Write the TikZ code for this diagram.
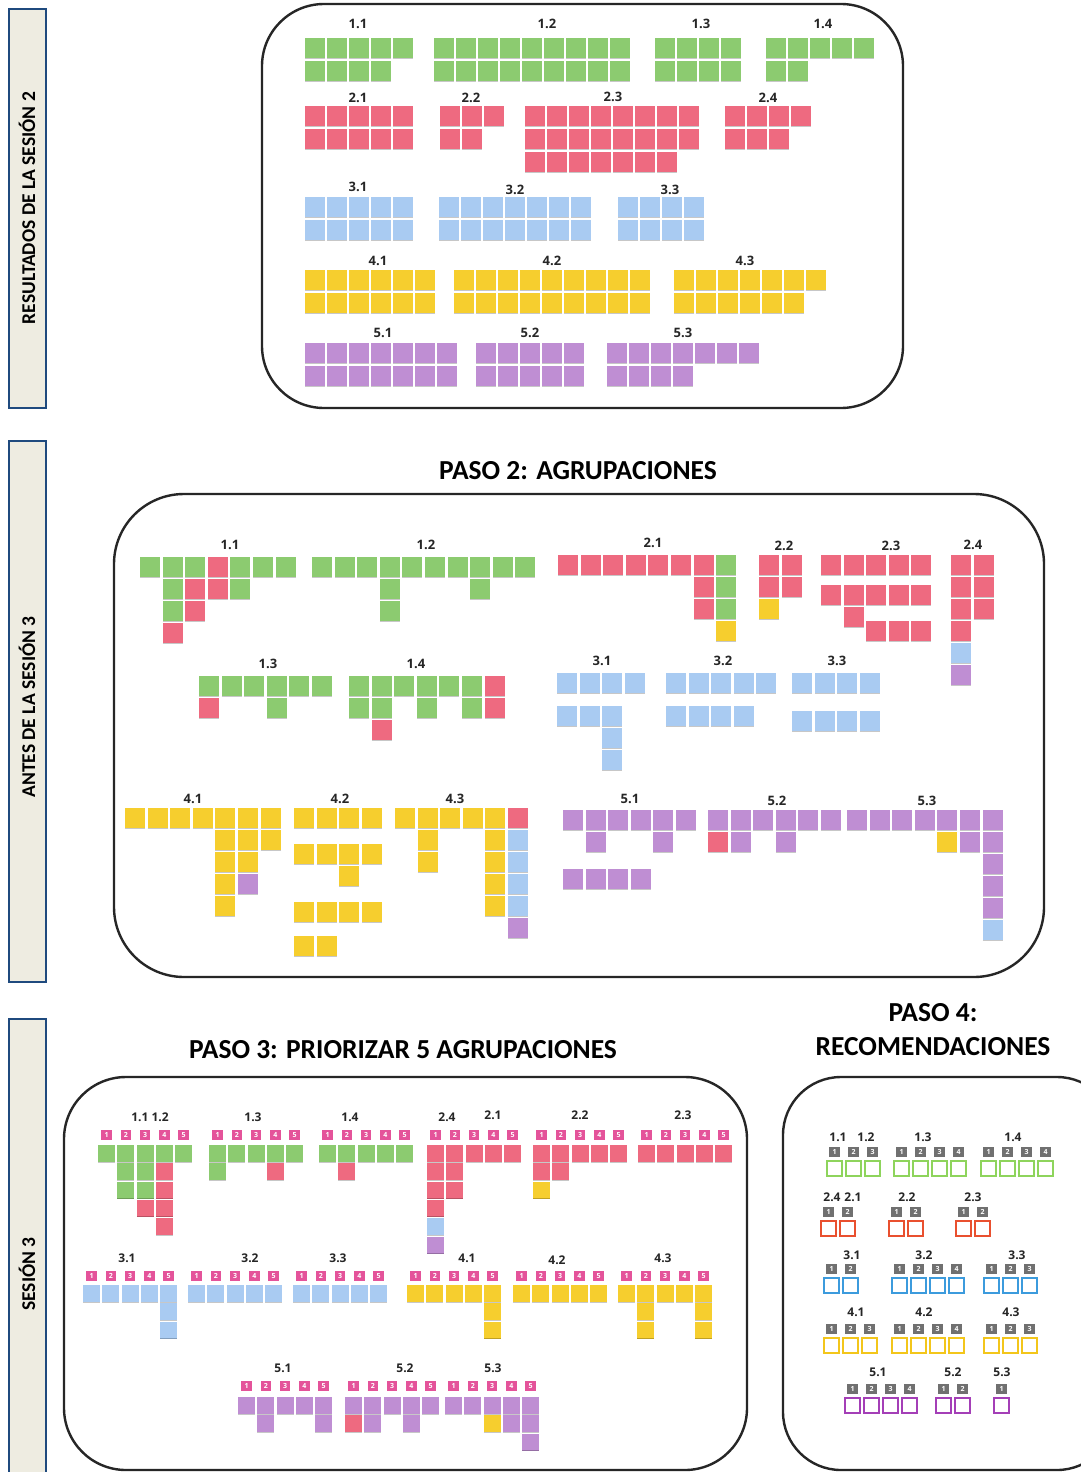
\documentclass[tikz,border=0pt]{standalone}
\usepackage{fontspec}
\setmainfont{Carlito}
\newfontfamily\labfont{Open Sans}
\definecolor{pgreen}{HTML}{8CCB70}
\definecolor{pred}{HTML}{EE6A80}
\definecolor{pblue}{HTML}{A9CBF2}
\definecolor{pyellow}{HTML}{F6CE2E}
\definecolor{ppurple}{HTML}{BF8ED3}
\definecolor{tagpink}{HTML}{E4539A}
\definecolor{taggray}{HTML}{707070}
\definecolor{ogreen}{HTML}{8ED45C}
\definecolor{ored}{HTML}{E9502F}
\definecolor{oblue}{HTML}{3C9BDD}
\definecolor{oyellow}{HTML}{F3C61B}
\definecolor{opurple}{HTML}{A43FB7}
\definecolor{barfill}{HTML}{EEECE1}
\definecolor{barblue}{HTML}{1F4A7E}
\newcommand{\postit}[3]{%
\fill[#1] ({\gx+(#2-1)*\np},{\gy+(#3-1)*\rp}) coordinate (q) rectangle ++(\ns,\ns);
\draw[black, opacity=.22, line width=.9pt] (q) ++(0,\ns) -- ++(\ns,0);}
\newcommand{\postrow}[4]{\foreach \cc in {#3,...,#4}{\postit{#1}{\cc}{#2}}}
\newcommand{\postcol}[4]{\foreach \rw in {#3,...,#4}{\postit{#1}{#2}{\rw}}}
\newcommand{\tagrow}[2]{\foreach \cc in {1,...,5}{\node[ptag] (#1-\cc) at ({\gx+(\cc-1)*\np+\ns/2},#2) {\cc};}}
\newcommand{\recbox}[5]{\foreach \cc in {1,...,#4}{%
\draw[obox=#1] ({#2+(\cc-1)*19+0.9},{#3+0.9}) rectangle ++(15.2,15.2);
\node[gtag] (#5-\cc) at ({#2+(\cc-1)*19+8.5},{#3-8}) {\cc};}}

\begin{document}
\begin{tikzpicture}[x=1pt, y=-1pt,
	panel/.style={draw=black!85, line width=2.4pt, rounded corners=#1},
	sidebar/.style={fill=barfill, draw=barblue, line width=2.6pt},
	side/.style={rotate=90, font=\bfseries\fontsize{19.5}{19.5}\selectfont},
	ttl/.style={font=\bfseries\fontsize{27.5}{27.5}\selectfont},
	lab/.style={font=\labfont\bfseries\fontsize{13}{13}\selectfont, text=black!85, inner sep=0pt},
	slab/.style={lab, font=\labfont\bfseries\fontsize{12}{12}\selectfont},
	ptag/.style={fill=tagpink, text=white, minimum size=10.5pt, inner sep=0pt, font=\labfont\bfseries\fontsize{7}{7}\selectfont},
	gtag/.style={ptag, fill=taggray},
	obox/.style={draw=#1, line width=1.8pt}]
	\useasboundingbox (0,0) rectangle (1081,1472);
	\fill[white] (0,0) rectangle (1081,1472);
	\draw[sidebar] (9,9) rectangle (46,408);
	\node[side] (s1) at (27,208) {RESULTADOS DE LA SESIÓN 2};
	\draw[sidebar] (9,441) rectangle (46,982);
	\node[side] (s2) at (27,707) {ANTES DE LA SESIÓN 3};
	\draw[sidebar] (9,1019) rectangle (46,1500);
	\node[side] (s3) at (27,1274) {SESIÓN 3};
	\draw[panel=62pt] (262,4) rectangle (903,408);
	\def\np{22}\def\rp{23}\def\ns{20}
	\def\gy{38}
	\def\gx{305}\postrow{pgreen}{1}{1}{5}\postrow{pgreen}{2}{1}{4}
	\def\gx{434}\postrow{pgreen}{1}{1}{9}\postrow{pgreen}{2}{1}{9}
	\def\gx{655}\postrow{pgreen}{1}{1}{4}\postrow{pgreen}{2}{1}{4}
	\def\gx{766}\postrow{pgreen}{1}{1}{5}\postrow{pgreen}{2}{1}{2}
	\def\gy{106}
	\def\gx{305}\postrow{pred}{1}{1}{5}\postrow{pred}{2}{1}{5}
	\def\gx{440}\postrow{pred}{1}{1}{3}\postrow{pred}{2}{1}{2}
	\def\gx{525}\postrow{pred}{1}{1}{8}\postrow{pred}{2}{1}{8}\postrow{pred}{3}{1}{7}
	\def\gx{725}\postrow{pred}{1}{1}{4}\postrow{pred}{2}{1}{3}
	\def\gy{197}
	\def\gx{305}\postrow{pblue}{1}{1}{5}\postrow{pblue}{2}{1}{5}
	\def\gx{439}\postrow{pblue}{1}{1}{7}\postrow{pblue}{2}{1}{7}
	\def\gx{618}\postrow{pblue}{1}{1}{4}\postrow{pblue}{2}{1}{4}
	\def\gy{270}
	\def\gx{305}\postrow{pyellow}{1}{1}{6}\postrow{pyellow}{2}{1}{6}
	\def\gx{454}\postrow{pyellow}{1}{1}{9}\postrow{pyellow}{2}{1}{9}
	\def\gx{674}\postrow{pyellow}{1}{1}{7}\postrow{pyellow}{2}{1}{6}
	\def\gy{343}
	\def\gx{305}\postrow{ppurple}{1}{1}{7}\postrow{ppurple}{2}{1}{7}
	\def\gx{476}\postrow{ppurple}{1}{1}{5}\postrow{ppurple}{2}{1}{5}
	\def\gx{607}\postrow{ppurple}{1}{1}{7}\postrow{ppurple}{2}{1}{4}
	\node[lab] (a11) at (358,24) {1.1};
	\node[lab] (a12) at (547,24) {1.2};
	\node[lab] (a13) at (701,24) {1.3};
	\node[lab] (a14) at (823,24) {1.4};
	\node[lab] (a21) at (358,98) {2.1};
	\node[lab] (a22) at (471,98) {2.2};
	\node[lab] (a23) at (613,97) {2.3};
	\node[lab] (a24) at (768,98) {2.4};
	\node[lab] (a31) at (358,187) {3.1};
	\node[lab] (a32) at (515,190) {3.2};
	\node[lab] (a33) at (670,190) {3.3};
	\node[lab] (a41) at (378,261) {4.1};
	\node[lab] (a42) at (552,261) {4.2};
	\node[lab] (a43) at (745,261) {4.3};
	\node[lab] (a51) at (383,333) {5.1};
	\node[lab] (a52) at (530,333) {5.2};
	\node[lab] (a53) at (683,333) {5.3};
	\node[ttl] (paso2) at (578,471) {PASO 2: AGRUPACIONES};
	\draw[panel=70pt] (114,494) rectangle (1044,977);
	\def\np{22.6}\def\rp{22}\def\ns{20}
	\def\gx{140}\def\gy{557}
	\postrow{pgreen}{1}{1}{3}\postit{pred}{4}{1}\postrow{pgreen}{1}{5}{7}
	\postcol{pgreen}{2}{2}{3}\postit{pred}{2}{4}\postcol{pred}{3}{2}{3}\postit{pred}{4}{2}\postit{pgreen}{5}{2}
	\def\gx{312}
	\postrow{pgreen}{1}{1}{10}\postcol{pgreen}{4}{2}{3}\postit{pgreen}{8}{2}
	\def\gx{558}\def\gy{555}
	\postrow{pred}{1}{1}{7}\postcol{pred}{7}{2}{3}\postcol{pgreen}{8}{1}{3}\postit{pyellow}{8}{4}
	\def\gx{759}
	\postrow{pred}{1}{1}{2}\postrow{pred}{2}{1}{2}\postit{pyellow}{1}{3}
	\def\gx{821}
	\postrow{pred}{1}{1}{5}
	\def\gy{585}\postrow{pred}{1}{1}{5}\postit{pred}{2}{2}
	\def\gy{621}\postrow{pred}{1}{3}{5}
	\def\gx{951}\def\gy{555}
	\postcol{pred}{1}{1}{4}\postcol{pred}{2}{1}{3}\postit{pblue}{1}{5}\postit{ppurple}{1}{6}
	\def\gx{199}\def\gy{676}
	\postrow{pgreen}{1}{1}{6}\postit{pred}{1}{2}\postit{pgreen}{4}{2}
	\def\gx{349}
	\postrow{pgreen}{1}{1}{6}\postcol{pred}{7}{1}{2}\postrow{pgreen}{2}{1}{2}\postit{pgreen}{4}{2}\postit{pgreen}{6}{2}\postit{pred}{2}{3}
	\def\gx{557}\def\gy{673}\postrow{pblue}{1}{1}{4}
	\def\gy{706}\postrow{pblue}{1}{1}{3}\postcol{pblue}{3}{2}{3}
	\def\gx{666}\def\gy{673}\postrow{pblue}{1}{1}{5}
	\def\gy{706}\postrow{pblue}{1}{1}{4}
	\def\gx{792}\def\gy{673}\postrow{pblue}{1}{1}{4}
	\def\gy{711}\postrow{pblue}{1}{1}{4}
	\def\gx{125}\def\gy{808}
	\postrow{pyellow}{1}{1}{7}\postcol{pyellow}{5}{2}{5}\postcol{pyellow}{6}{2}{3}\postit{ppurple}{6}{4}\postit{pyellow}{7}{2}
	\def\gx{294}\postrow{pyellow}{1}{1}{4}
	\def\gy{844}\postrow{pyellow}{1}{1}{4}\postit{pyellow}{3}{2}
	\def\gy{902}\postrow{pyellow}{1}{1}{4}
	\def\gy{936}\postrow{pyellow}{1}{1}{2}
	\def\gx{395}\def\gy{808}
	\postrow{pyellow}{1}{1}{5}\postit{pred}{6}{1}\postcol{pyellow}{2}{2}{3}\postcol{pyellow}{5}{2}{5}\postcol{pblue}{6}{2}{5}\postit{ppurple}{6}{6}
	\def\gx{563}\def\gy{810}
	\postrow{ppurple}{1}{1}{6}\postit{ppurple}{2}{2}\postit{ppurple}{5}{2}
	\def\gy{869}\postrow{ppurple}{1}{1}{4}
	\def\gx{708}\def\gy{810}
	\postrow{ppurple}{1}{1}{6}\postit{pred}{1}{2}\postit{ppurple}{2}{2}\postit{ppurple}{4}{2}
	\def\gx{847}
	\postrow{ppurple}{1}{1}{7}\postit{pyellow}{5}{2}\postit{ppurple}{6}{2}\postcol{ppurple}{7}{2}{5}\postit{pblue}{7}{6}
	\node[lab] (b11) at (230,545) {1.1};
	\node[lab] (b12) at (426,545) {1.2};
	\node[lab] (b21) at (653,543) {2.1};
	\node[lab] (b22) at (784,546) {2.2};
	\node[lab] (b23) at (891,546) {2.3};
	\node[lab] (b24) at (973,545) {2.4};
	\node[lab] (b13) at (268,664) {1.3};
	\node[lab] (b14) at (416,664) {1.4};
	\node[lab] (b31) at (602,661) {3.1};
	\node[lab] (b32) at (723,661) {3.2};
	\node[lab] (b33) at (837,661) {3.3};
	\node[lab] (b41) at (193,799) {4.1};
	\node[lab] (b42) at (340,799) {4.2};
	\node[lab] (b43) at (455,799) {4.3};
	\node[lab] (b51) at (630,799) {5.1};
	\node[lab] (b52) at (777,801) {5.2};
	\node[lab] (b53) at (927,801) {5.3};
	\node[ttl] (paso3) at (403,1050) {PASO 3: PRIORIZAR 5 AGRUPACIONES};
	\draw[panel=62pt] (64,1077) rectangle (747,1470);
	\def\np{19.3}\def\rp{18.3}\def\ns{17}
	\def\gy{1145}
	\def\gx{98}\tagrow{c1}{1135}
	\postrow{pgreen}{1}{1}{5}\postcol{pgreen}{2}{2}{3}\postcol{pgreen}{3}{2}{3}\postit{pred}{3}{4}\postcol{pred}{4}{2}{5}
	\def\gx{209}\tagrow{c2}{1135}
	\postrow{pgreen}{1}{1}{5}\postit{pgreen}{1}{2}\postit{pred}{4}{2}
	\def\gx{319}\tagrow{c3}{1135}
	\postrow{pgreen}{1}{1}{5}\postit{pred}{2}{2}
	\def\gx{427}\tagrow{c4}{1135}
	\postrow{pred}{1}{1}{5}\postcol{pred}{1}{2}{4}\postcol{pred}{2}{2}{3}\postit{pblue}{1}{5}\postit{ppurple}{1}{6}
	\def\gx{533}\tagrow{c5}{1135}
	\postrow{pred}{1}{1}{5}\postcol{pred}{1}{2}{2}\postit{pred}{2}{2}\postit{pyellow}{1}{3}
	\def\gx{638}\tagrow{c6}{1135}
	\postrow{pred}{1}{1}{5}
	\def\gy{1285}
	\def\gx{83}\tagrow{c7}{1276}
	\postrow{pblue}{1}{1}{5}\postcol{pblue}{5}{2}{3}
	\def\gx{188}\tagrow{c8}{1276}
	\postrow{pblue}{1}{1}{5}
	\def\gx{293}\tagrow{c9}{1276}
	\postrow{pblue}{1}{1}{5}
	\def\gx{407}\tagrow{c10}{1276}
	\postrow{pyellow}{1}{1}{5}\postcol{pyellow}{5}{2}{3}
	\def\gx{513}\tagrow{c11}{1276}
	\postrow{pyellow}{1}{1}{5}
	\def\gx{618}\tagrow{c12}{1276}
	\postrow{pyellow}{1}{1}{5}\postcol{pyellow}{2}{2}{3}\postcol{pyellow}{5}{2}{3}
	\def\gy{1397}
	\def\gx{238}\tagrow{c13}{1386}
	\postrow{ppurple}{1}{1}{5}\postit{ppurple}{2}{2}\postit{ppurple}{5}{2}
	\def\gx{345}\tagrow{c14}{1386}
	\postrow{ppurple}{1}{1}{5}\postit{pred}{1}{2}\postit{ppurple}{2}{2}\postit{ppurple}{4}{2}
	\def\gx{445}\tagrow{c15}{1386}
	\postrow{ppurple}{1}{1}{5}\postit{pyellow}{3}{2}\postit{ppurple}{4}{2}\postcol{ppurple}{5}{2}{3}
	\node[slab] (c1112) at (150,1117) {1.1 1.2};
	\node[slab] (c13) at (253,1117) {1.3};
	\node[slab] (c14) at (350,1117) {1.4};
	\node[slab] (c24) at (447,1117) {2.4};
	\node[slab] (c21) at (493,1115) {2.1};
	\node[slab] (c22) at (580,1115) {2.2};
	\node[slab] (c23) at (683,1115) {2.3};
	\node[slab] (c31) at (127,1258) {3.1};
	\node[slab] (c32) at (250,1258) {3.2};
	\node[slab] (c33) at (338,1258) {3.3};
	\node[slab] (c41) at (467,1258) {4.1};
	\node[slab] (c42) at (557,1260) {4.2};
	\node[slab] (c43) at (663,1258) {4.3};
	\node[slab] (c51) at (283,1368) {5.1};
	\node[slab] (c52) at (405,1368) {5.2};
	\node[slab] (c53) at (493,1368) {5.3};
	\node[ttl] (paso4a) at (933,1013) {PASO 4:};
	\node[ttl] (paso4b) at (933,1047) {RECOMENDACIONES};
	\draw[panel=58pt] (783,1077) rectangle (1115,1470);
	\recbox{ogreen}{826}{1160}{3}{d1}
	\recbox{ogreen}{893}{1160}{4}{d2}
	\recbox{ogreen}{980}{1160}{4}{d3}
	\recbox{ored}{820}{1220}{2}{d4}
	\recbox{ored}{888}{1220}{2}{d5}
	\recbox{ored}{955}{1220}{2}{d6}
	\recbox{oblue}{823}{1277}{2}{d7}
	\recbox{oblue}{891}{1277}{4}{d8}
	\recbox{oblue}{983}{1277}{3}{d9}
	\recbox{oyellow}{823}{1337}{3}{d10}
	\recbox{oyellow}{891}{1337}{4}{d11}
	\recbox{oyellow}{983}{1337}{3}{d12}
	\recbox{opurple}{844}{1397}{4}{d13}
	\recbox{opurple}{935}{1397}{2}{d14}
	\recbox{opurple}{993}{1397}{1}{d15}
	\node[slab] (e11) at (838,1137) {1.1};
	\node[slab] (e12) at (866,1137) {1.2};
	\node[slab] (e13) at (923,1137) {1.3};
	\node[slab] (e14) at (1013,1137) {1.4};
	\node[slab] (e24) at (832,1197) {2.4};
	\node[slab] (e21) at (853,1197) {2.1};
	\node[slab] (e22) at (907,1197) {2.2};
	\node[slab] (e23) at (973,1197) {2.3};
	\node[slab] (e31) at (852,1255) {3.1};
	\node[slab] (e32) at (924,1255) {3.2};
	\node[slab] (e33) at (1017,1255) {3.3};
	\node[slab] (e41) at (856,1312) {4.1};
	\node[slab] (e42) at (924,1312) {4.2};
	\node[slab] (e43) at (1011,1312) {4.3};
	\node[slab] (e51) at (878,1372) {5.1};
	\node[slab] (e52) at (953,1372) {5.2};
	\node[slab] (e53) at (1002,1372) {5.3};
\end{tikzpicture}
\end{document}
